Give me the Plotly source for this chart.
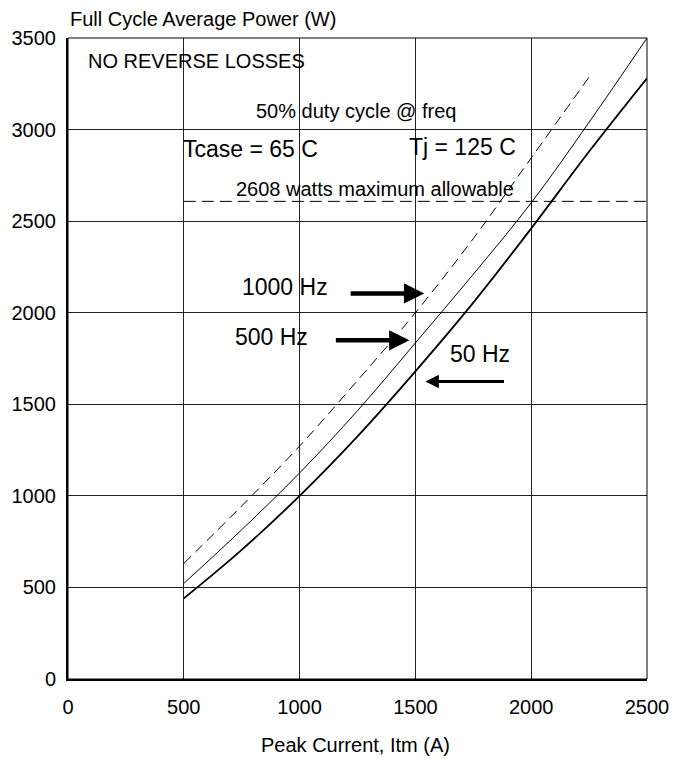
import plotly.graph_objects as go

# ---- data ----
current_50 = [500, 750, 1000, 1250, 1500, 1750, 2000, 2250, 2500]
power_50hz = [440, 705, 1000, 1325, 1680, 2055, 2460, 2880, 3280]

current_500 = [500, 750, 1000, 1250, 1500, 1750, 2000, 2250, 2500]
power_500hz = [522, 815, 1125, 1465, 1835, 2210, 2600, 3040, 3500]

current_1000 = [500, 750, 1000, 1250, 1500, 1750, 2000, 2253]
power_1000hz = [631, 945, 1272, 1630, 2000, 2405, 2845, 3292]

max_allow_x = [500, 2500]
max_allow_y = [2608, 2608]

x_ticks = [0, 500, 1000, 1500, 2000, 2500]
y_ticks = [0, 500, 1000, 1500, 2000, 2500, 3000, 3500]

FONT = "Liberation Sans, Arial, sans-serif"
SMALL = 20
BIG = 23

fig = go.Figure()
fig.add_trace(go.Scatter(x=current_50, y=power_50hz, mode="lines", name="50 Hz",
                         line=dict(color="black", width=1.8, shape="spline")))
fig.add_trace(go.Scatter(x=current_500, y=power_500hz, mode="lines", name="500 Hz",
                         line=dict(color="black", width=1, shape="spline")))
fig.add_trace(go.Scatter(x=current_1000, y=power_1000hz, mode="lines", name="1000 Hz",
                         line=dict(color="black", width=1, shape="spline", dash="10px,6px")))
fig.add_trace(go.Scatter(x=max_allow_x, y=max_allow_y, mode="lines", name="max",
                         line=dict(color="black", width=1, dash="12px,6px")))

def txt(x, y, s, size, xanchor="center"):
    fig.add_annotation(x=x, y=y, xref="x", yref="y", text=s, showarrow=False,
                       xanchor=xanchor, yanchor="middle",
                       font=dict(family=FONT, size=size, color="black"))

txt(78, 3376, "NO REVERSE LOSSES", SMALL, xanchor="left")
txt(1245, 3104, "50% duty cycle @ freq", SMALL)
txt(787, 2896, "Tcase = 65 C", BIG)
txt(1703, 2907, "Tj = 125 C", BIG)
txt(1327, 2673, "2608 watts maximum allowable", SMALL)
txt(936, 2138, "1000 Hz", BIG)
txt(877, 1865, "500 Hz", BIG)
txt(1778, 1773, "50 Hz", BIG)

def arrow(x_tail, x_tip, y, width):
    fig.add_annotation(x=x_tip, y=y, ax=x_tail, ay=y, xref="x", yref="y",
                       axref="x", ayref="y", text="", showarrow=True,
                       arrowhead=2, arrowsize=0.9, arrowwidth=width,
                       arrowcolor="black", standoff=0)

arrow(1214, 1538, 2105, 4.5)
arrow(1150, 1474, 1849, 4.5)
arrow(1889, 1543, 1625, 3)

# axis titles
fig.add_annotation(x=0, y=1.0295, xref="paper", yref="paper",
                   text="Full Cycle Average Power (W)", showarrow=False,
                   xanchor="left", yanchor="middle",
                   font=dict(family=FONT, size=SMALL, color="black"))
fig.add_annotation(x=0.497, y=-0.103, xref="paper", yref="paper",
                   text="Peak Current, Itm (A)", showarrow=False,
                   xanchor="center", yanchor="middle",
                   font=dict(family=FONT, size=SMALL, color="black"))

# frame
fig.add_shape(type="rect", xref="paper", yref="paper", x0=0, y0=0, x1=1, y1=1,
              line=dict(color="black", width=1), layer="above")

fig.update_layout(
    width=670, height=752,
    margin=dict(l=60, r=31, t=30, b=81),
    paper_bgcolor="white", plot_bgcolor="white",
    showlegend=False,
    font=dict(family=FONT, size=SMALL, color="black"),
)
fig.update_xaxes(range=[0, 2500], tickvals=x_ticks, showgrid=True,
                 gridcolor="#222", gridwidth=1, zeroline=False,
                 showline=True, linecolor="black", linewidth=2,
                 ticks="", ticklabelstandoff=9, automargin=False,
                 tickfont=dict(family=FONT, size=SMALL, color="black"))
fig.update_yaxes(range=[0, 3500], tickvals=y_ticks, showgrid=True,
                 gridcolor="#222", gridwidth=1, zeroline=False,
                 showline=True, linecolor="black", linewidth=2,
                 ticks="", ticklabelstandoff=6, automargin=False,
                 tickfont=dict(family=FONT, size=SMALL, color="black"))

fig.write_html("out.html")
